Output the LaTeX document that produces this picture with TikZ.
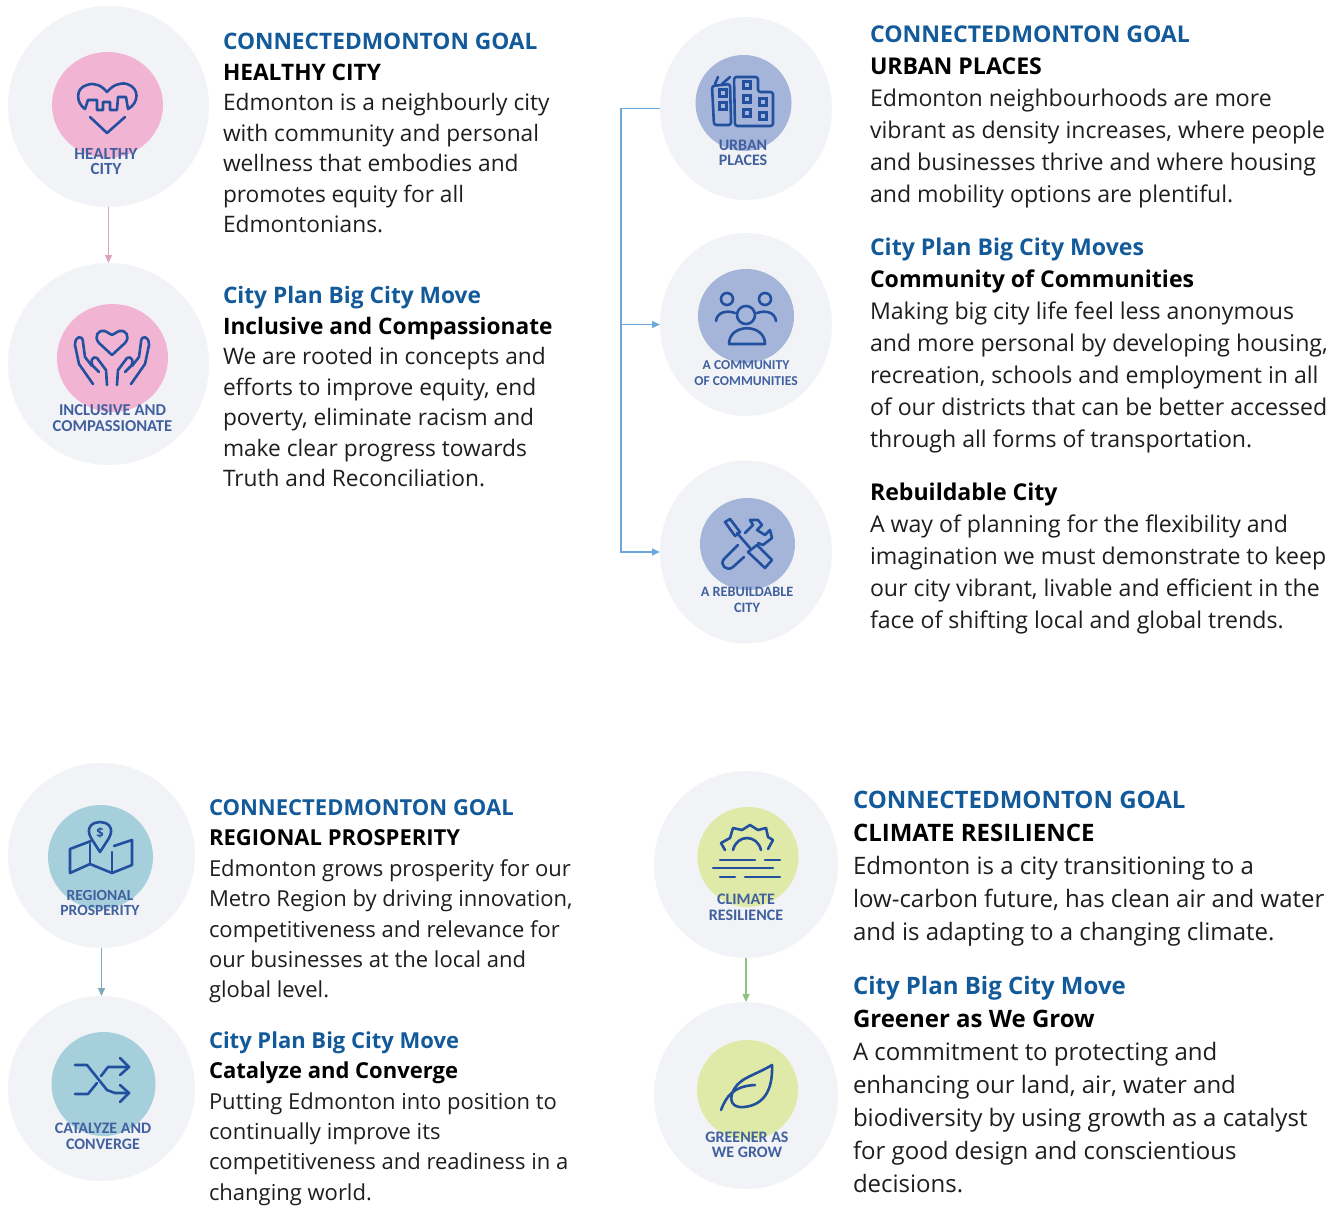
\documentclass[tikz,border=0pt]{standalone}
\usepackage{fontspec}
\setmainfont{Open Sans}
\newfontfamily\badgefont{Carlito}
\usetikzlibrary{shapes.geometric,arrows.meta}
\definecolor{headblue}{HTML}{135A9A}
\definecolor{bodyink}{HTML}{1E1E1E}
\definecolor{iconblue}{HTML}{22509F}
\definecolor{badgeink}{HTML}{41609F}
\definecolor{halo}{HTML}{F1F3F6}
\definecolor{pinkdisc}{HTML}{F2B4D3}
\definecolor{bluedisc}{HTML}{A4B5D9}
\definecolor{tealdisc}{HTML}{A6CFDC}
\definecolor{greendisc}{HTML}{DFEAA8}
\definecolor{pinkflow}{HTML}{DDA3BE}
\definecolor{tealflow}{HTML}{7FA9B8}
\definecolor{greenflow}{HTML}{8CC47E}
\definecolor{blueflow}{HTML}{6FA8DC}
\newcommand{\hd}[1]{\textcolor{headblue}{\bfseries #1}}
\newcommand{\bd}[1]{\textcolor{black}{\bfseries #1}}
% name, x, first baseline, size, leading, text
\newcommand{\tblock}[6]{\node[textblock,font=\fontsize{#4}{#5}\selectfont] (#1) at (#2,#3-0.7*#5) {\strut #6};}
% name, x, y of centre, size, line 1, line 2
\newcommand{\blabel}[6]{\node[badgelabel,font=\badgefont\bfseries\fontsize{#4}{15.5}\selectfont] (#1) at (#2,#3) {#5\\#6};}
\tikzset{
  textblock/.style={anchor=north west,inner sep=0pt,outer sep=0pt,align=left,text=bodyink},
  badgelabel/.style={inner sep=0pt,outer sep=0pt,align=center,text=badgeink},
  outerdisc/.style={ellipse,fill=halo,inner sep=0pt,outer sep=0pt},
  innerdisc/.style={ellipse,inner sep=0pt,outer sep=0pt},
  iconline/.style={draw=iconblue,line width=2.6pt,line cap=round,line join=round,fill=none},
  flow/.style={line width=1.4pt,-{Triangle[width=7pt,length=8pt]}},
}
\begin{document}
\begin{tikzpicture}[x=1pt,y=-1pt]
\useasboundingbox[fill=white] (0,0) rectangle (1343,1205);
% discs
\node[outerdisc,minimum width=201pt,minimum height=201pt] (healthy) at (108.5,106.5) {};
\node[outerdisc,minimum width=201pt,minimum height=202pt] (inclusive) at (108.5,364) {};
\node[innerdisc,fill=pinkdisc,minimum width=111pt,minimum height=106pt] (healthyin) at (107.5,105) {};
\node[innerdisc,fill=pinkdisc,minimum width=111pt,minimum height=108pt] (inclusivein) at (112.5,358) {};
\node[outerdisc,minimum width=172pt,minimum height=183pt] (urban) at (746,108.5) {};
\node[outerdisc,minimum width=172pt,minimum height=183pt] (community) at (746,324.5) {};
\node[outerdisc,minimum width=172pt,minimum height=183pt] (rebuild) at (746,552) {};
\node[innerdisc,fill=bluedisc,minimum width=96pt,minimum height=96pt] (urbanin) at (743.5,103) {};
\node[innerdisc,fill=bluedisc,minimum width=96pt,minimum height=94pt] (communityin) at (746,316) {};
\node[innerdisc,fill=bluedisc,minimum width=95pt,minimum height=92pt] (rebuildin) at (747.5,544) {};
\node[outerdisc,minimum width=187pt,minimum height=185pt] (regional) at (101.5,855.5) {};
\node[outerdisc,minimum width=187pt,minimum height=185pt] (catalyze) at (101.5,1088.5) {};
\node[innerdisc,fill=tealdisc,minimum width=105pt,minimum height=104pt] (regionalin) at (100.5,857) {};
\node[innerdisc,fill=tealdisc,minimum width=104pt,minimum height=104pt] (catalyzein) at (103.5,1084) {};
\node[outerdisc,minimum width=184pt,minimum height=187pt] (climate) at (746,864.5) {};
\node[outerdisc,minimum width=184pt,minimum height=187pt] (greener) at (746,1095.5) {};
\node[innerdisc,fill=greendisc,minimum width=101pt,minimum height=100pt] (climatein) at (748,857) {};
\node[innerdisc,fill=greendisc,minimum width=101pt,minimum height=100pt] (greenerin) at (747.5,1090) {};
% connectors
\draw[flow,draw=pinkflow] (healthy) -- (inclusive);
\draw[flow,draw=tealflow] (regional) -- (catalyze);
\draw[flow,draw=greenflow] (climate) -- (greener);
\coordinate (trunk) at (621,108.5);
\draw[flow,draw=blueflow] (urban.west) -- (trunk) |- (rebuild.west);
\draw[flow,draw=blueflow] (trunk |- community.west) -- (community.west);
% badge labels
\blabel{lh}{106}{161.5}{17}{HEALTHY}{CITY}
\blabel{li}{112.5}{418}{16.6}{INCLUSIVE AND}{COMPASSIONATE}
\blabel{lu}{743}{153}{16}{URBAN}{PLACES}
\blabel{lc}{746}{373}{13.6}{A COMMUNITY}{OF COMMUNITIES}
\blabel{lr}{747}{600}{14.3}{A REBUILDABLE}{CITY}
\blabel{lg}{100}{903}{15.5}{REGIONAL}{PROSPERITY}
\blabel{lk}{103}{1136.5}{16}{CATALYZE AND}{CONVERGE}
\blabel{lm}{746}{907.5}{16}{CLIMATE}{RESILIENCE}
\blabel{lw}{747}{1145}{16}{GREENER AS}{WE GROW}
% heart city icon
\draw[iconline] (85,109) .. controls (76,103) and (75,88) .. (87,85) .. controls (95,82) and (102,86) .. (107,92) .. controls (112,86) and (119,82) .. (127,84) .. controls (140,88) and (139,103) .. (128,109);
\draw[iconline] (85,109) -- (88,100) -- (97,100) -- (97,110) -- (103,110) -- (103,102) -- (110,102) -- (110,110) -- (117,110) -- (118,97) -- (126,97) -- (128,109);
\draw[iconline] (90,117) -- (107,133) -- (125,117);
% hands icon
\draw[iconline] (112,355) -- (99,343) .. controls (93,336) and (99,329) .. (105,331) -- (112,335) -- (119,331) .. controls (125,329) and (131,336) .. (125,343) -- cycle;
\draw[iconline] (93,384) -- (79,364) -- (75,345) .. controls (75,335) and (83,335) .. (83,342) -- (85,357) -- (92,366);
\draw[iconline] (107,385) -- (106,370) -- (97,358) .. controls (93,355) and (89,362) .. (93,366) -- (99,372);
\draw[iconline] (131,384) -- (145,364) -- (149,345) .. controls (149,335) and (141,335) .. (141,342) -- (139,357) -- (132,366);
\draw[iconline] (117,385) -- (118,370) -- (127,358) .. controls (131,355) and (135,362) .. (131,366) -- (125,372);
% urban icon
\draw[iconline,rounded corners=2.5pt] (712,86) -- (730,84) -- (731,120) -- (731,125) -- (714,125) -- cycle;
\draw[iconline] (715,84) -- (718,77) (722,84) -- (730,77);
\draw[iconline,rounded corners=2.5pt] (735,126) -- (734,77) -- (758,77) -- (758,92) -- (773,92) -- (773,126) -- cycle;
\foreach \wx/\wy in {723/93,723/106,747/85,747/99,747/113,763/102,763/116}
  \draw[draw=iconblue,line width=2.2pt] (\wx-3.5,\wy-3.5) rectangle ++(7,7);
% community icon
\draw[iconline] (727,299) circle[radius=6];
\draw[iconline] (765,299) circle[radius=6];
\draw[iconline] (746,315) circle[radius=9];
\draw[iconline] (716,321) .. controls (717,312) and (727,310) .. (735,313);
\draw[iconline] (776,321) .. controls (775,312) and (765,310) .. (757,313);
\draw[iconline] (729,344) .. controls (729,323) and (765,323) .. (765,344) -- cycle;
% tools icon
\draw[iconline] (725,522) -- (730,519) -- (740,532) -- (735,536) -- cycle;
\draw[iconline] (737,533) -- (750,548);
\draw[iconline] (748,552) -- (757,545) -- (772,560) -- (765,568) -- cycle;
\draw[iconline] (738,545) -- (724,559) .. controls (719,565) and (727,572) .. (733,567) -- (744,557);
\draw[iconline] (745,533) -- (753,525) -- (750,520) -- (758,520) -- (762,525) -- (757,530) -- (765,535) -- (770,530) -- (772,538) -- (763,545) -- (758,543);
% map icon
\draw[iconline] (91,841) -- (70,849) -- (70,873) -- (90,864) -- (112,873) -- (132,865) -- (132,840) -- (114,846);
\draw[iconline] (90,844) -- (90,864) (112,852) -- (112,873);
\draw[iconline] (100,852) -- (91,838) .. controls (85,827) and (93,822) .. (100,822) .. controls (107,822) and (115,827) .. (109,838) -- cycle;
\node[inner sep=0pt,text=iconblue,font=\bfseries\fontsize{13}{13}\selectfont] (dollar) at (100,833) {\$};
% shuffle icon
\draw[iconline] (75,1065) -- (87,1065) -- (107,1090) -- (115,1093) -- (129,1093);
\draw[iconline] (75,1094) -- (88,1094) -- (97,1083);
\draw[iconline] (101,1076) -- (108,1067) -- (129,1067);
\draw[iconline] (120,1058) -- (129,1067) -- (120,1075);
\draw[iconline] (120,1085) -- (129,1093) -- (120,1102);
% sun icon
\draw[iconline] (725,850) -- (721,843) -- (730,838) -- (733,828) -- (742,830) -- (750,825) -- (758,830) -- (766,828) -- (768,837) -- (773,840) -- (768,849);
\draw[iconline] (733,850) .. controls (737,834) and (757,834) .. (761,850);
\draw[iconline] (720,860) -- (755,860) (765,860) -- (780,860);
\draw[iconline] (713,868) -- (773,868);
\draw[iconline] (720,877) -- (735,877) (745,877) -- (780,877);
% leaf icon
\draw[iconline] (772,1065) .. controls (752,1077) and (737,1078) .. (732,1094) .. controls (729,1104) and (736,1108) .. (744,1107) .. controls (764,1105) and (773,1090) .. (772,1065) -- cycle;
\draw[iconline] (721,1110) .. controls (726,1097) and (733,1086) .. (755,1085);
% text
\tblock{tl1}{223}{49.5}{22.7}{30.5}{\hd{CONNECTEDMONTON GOAL}\\\bd{HEALTHY CITY}\\Edmonton is a neighbourly city\\with community and personal\\wellness that embodies and\\promotes equity for all\\Edmontonians.}
\tblock{tl2}{223}{303.5}{22.7}{30.5}{\hd{City Plan Big City Move}\\\bd{Inclusive and Compassionate}\\We are rooted in concepts and\\efforts to improve equity, end\\poverty, eliminate racism and\\make clear progress towards\\Truth and Reconciliation.}
\tblock{tr1}{870}{42}{23.1}{32}{\hd{CONNECTEDMONTON GOAL}\\\bd{URBAN PLACES}\\Edmonton neighbourhoods are more\\vibrant as density increases, where people\\and businesses thrive and where housing\\and mobility options are plentiful.}
\tblock{tr2}{870}{255}{23.1}{32}{\hd{City Plan Big City Moves}\\\bd{Community of Communities}\\Making big city life feel less anonymous\\and more personal by developing housing,\\recreation, schools and employment in all\\of our districts that can be better accessed\\through all forms of transportation.}
\tblock{tr3}{870}{500}{23.1}{32}{\bd{Rebuildable City}\\A way of planning for the flexibility and\\imagination we must demonstrate to keep\\our city vibrant, livable and efficient in the\\face of shifting local and global trends.}
\tblock{bl1}{209}{815.5}{22}{30.4}{\hd{CONNECTEDMONTON GOAL}\\\bd{REGIONAL PROSPERITY}\\Edmonton grows prosperity for our\\Metro Region by driving innovation,\\competitiveness and relevance for\\our businesses at the local and\\global level.}
\tblock{bl2}{209}{1048.5}{22}{30.3}{\hd{City Plan Big City Move}\\\bd{Catalyze and Converge}\\Putting Edmonton into position to\\continually improve its\\competitiveness and readiness in a\\changing world.}
\tblock{br1}{853}{808.5}{24}{33}{\hd{CONNECTEDMONTON GOAL}\\\bd{CLIMATE RESILIENCE}\\Edmonton is a city transitioning to a\\low-carbon future, has clean air and water\\and is adapting to a changing climate.}
\tblock{br2}{853}{994.5}{24}{33}{\hd{City Plan Big City Move}\\\bd{Greener as We Grow}\\A commitment to protecting and\\enhancing our land, air, water and\\biodiversity by using growth as a catalyst\\for good design and conscientious\\decisions.}
\end{tikzpicture}
\end{document}
